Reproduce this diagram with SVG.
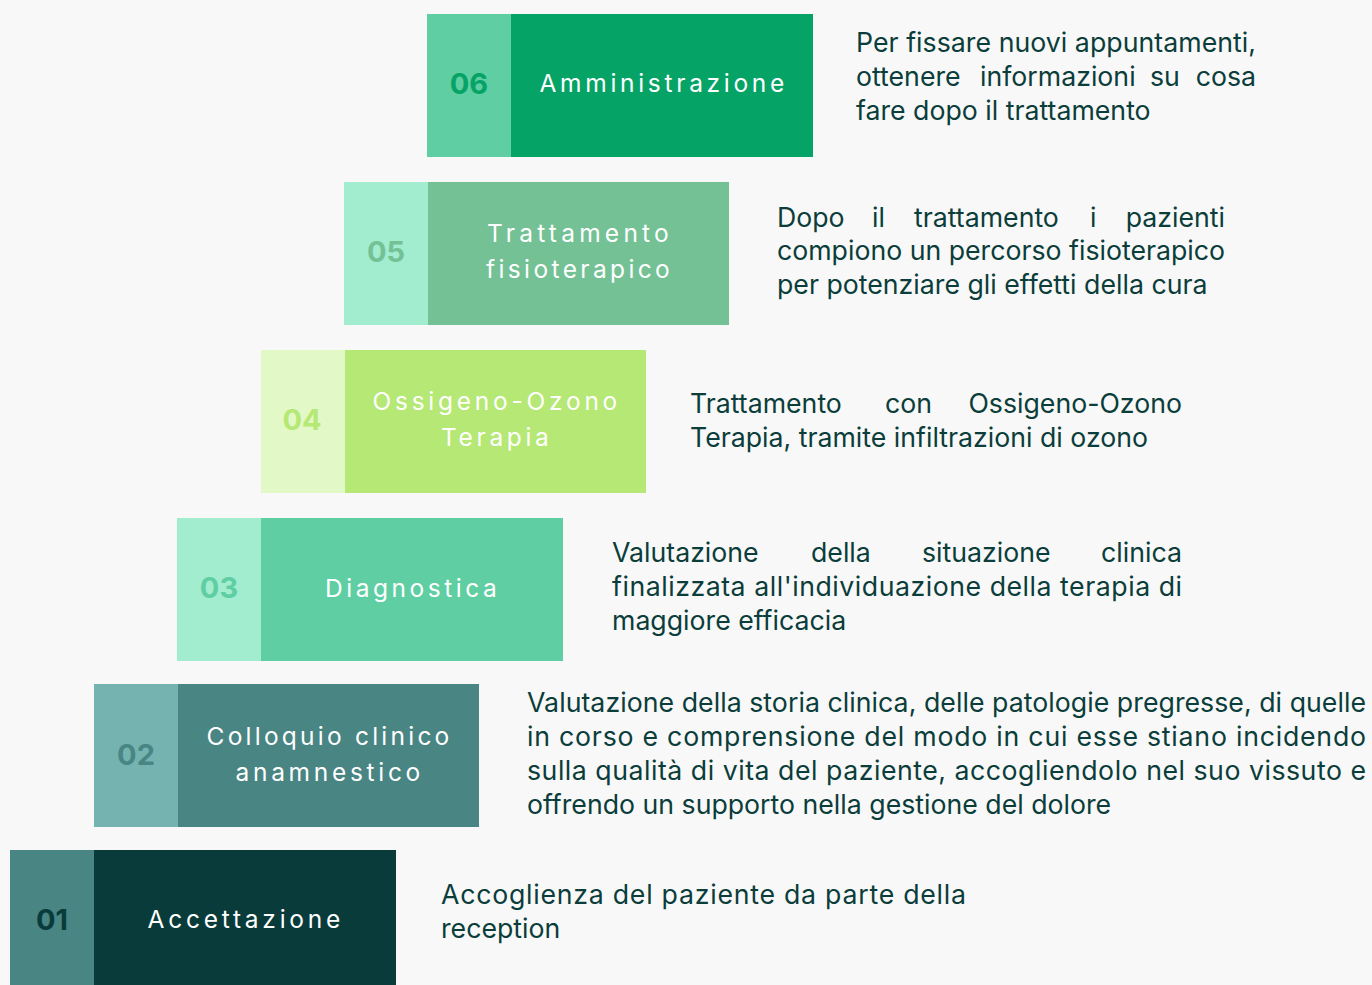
<svg xmlns="http://www.w3.org/2000/svg" width="1372" height="985" viewBox="0 0 1372 985">
<style>
.lbl{font-family:Inter,"Liberation Sans",sans-serif;font-size:24.5px;fill:#ffffff;letter-spacing:2.2px;text-anchor:middle}
.num{font-family:Inter,"Liberation Sans",sans-serif;font-size:29px;font-weight:700;text-anchor:middle}
.body{font-family:Inter,"Liberation Sans",sans-serif;font-size:26.7px;fill:#0b3d3a}
.end{text-anchor:end}
</style>
<rect x="0" y="0" width="1372" height="985" fill="#f8f8f8"/>
<g id="step06">
<rect x="427" y="14" width="84" height="143" fill="#5fcea3"/>
<rect x="511" y="14" width="302" height="143" fill="#05a366"/>
<text class="num" x="469" y="94" fill="#05a366">06</text>
<text class="lbl" x="663" y="92" textLength="247" lengthAdjust="spacing">Amministrazione</text>
</g>
<g id="step05">
<rect x="344" y="182" width="84" height="143" fill="#a2ecd0"/>
<rect x="428" y="182" width="301" height="143" fill="#74c195"/>
<text class="num" x="386" y="262" fill="#74c195">05</text>
<text class="lbl" x="579" y="242" textLength="184" lengthAdjust="spacing">Trattamento</text>
<text class="lbl" x="579" y="278" textLength="186" lengthAdjust="spacing">fisioterapico</text>
</g>
<g id="step04">
<rect x="261" y="350" width="84" height="143" fill="#e2f8c7"/>
<rect x="345" y="350" width="301" height="143" fill="#b5e874"/>
<text class="num" x="302" y="430" fill="#b5e874">04</text>
<text class="lbl" x="496" y="410" textLength="247" lengthAdjust="spacing">Ossigeno-Ozono</text>
<text class="lbl" x="496" y="446" textLength="110" lengthAdjust="spacing">Terapia</text>
</g>
<g id="step03">
<rect x="177" y="518" width="84" height="143" fill="#a2ecd0"/>
<rect x="261" y="518" width="302" height="143" fill="#5fcea3"/>
<text class="num" x="219" y="598" fill="#5fcea3">03</text>
<text class="lbl" x="412" y="597" textLength="174" lengthAdjust="spacing">Diagnostica</text>
</g>
<g id="step02">
<rect x="94" y="684" width="84" height="143" fill="#75b3b0"/>
<rect x="178" y="684" width="301" height="143" fill="#488583"/>
<text class="num" x="136" y="765" fill="#488583">02</text>
<text class="lbl" x="329" y="745" textLength="245" lengthAdjust="spacing">Colloquio clinico</text>
<text class="lbl" x="329" y="781" textLength="187" lengthAdjust="spacing">anamnestico</text>
</g>
<g id="step01">
<rect x="10" y="850" width="84" height="135" fill="#488583"/>
<rect x="94" y="850" width="302" height="135" fill="#083b3a"/>
<text class="num" x="52" y="930" fill="#083b3a">01</text>
<text class="lbl" x="245" y="928" textLength="195" lengthAdjust="spacing">Accettazione</text>
</g>
<g id="connectors"></g>
<g id="desc06">
<text class="body" x="856" y="52" textLength="400" lengthAdjust="spacing">Per fissare nuovi appuntamenti,</text>
<text class="body" y="86"><tspan x="856">ottenere</tspan><tspan x="980">informazioni</tspan><tspan x="1150">su</tspan></text>
<text class="body end" x="1256" y="86">cosa</text>
<text class="body" x="856" y="120">fare dopo il trattamento</text>
</g>
<g id="desc05">
<text class="body" y="227"><tspan x="777">Dopo</tspan><tspan x="872">il</tspan><tspan x="914">trattamento</tspan><tspan x="1090">i</tspan></text>
<text class="body end" x="1225" y="227">pazienti</text>
<text class="body" x="777" y="260" textLength="448" lengthAdjust="spacing">compiono un percorso fisioterapico</text>
<text class="body" x="777" y="294">per potenziare gli effetti della cura</text>
</g>
<g id="desc04">
<text class="body" y="413"><tspan x="690">Trattamento</tspan><tspan x="885">con</tspan></text>
<text class="body end" x="1182" y="413">Ossigeno-Ozono</text>
<text class="body" x="690" y="447">Terapia, tramite infiltrazioni di ozono</text>
</g>
<g id="desc03">
<text class="body" y="562"><tspan x="612">Valutazione</tspan><tspan x="811">della</tspan><tspan x="922">situazione</tspan></text>
<text class="body end" x="1182" y="562">clinica</text>
<text class="body" x="612" y="596" textLength="570" lengthAdjust="spacing">finalizzata all'individuazione della terapia di</text>
<text class="body" x="612" y="630">maggiore efficacia</text>
</g>
<g id="desc02">
<text class="body" x="527" y="712" textLength="839" lengthAdjust="spacing">Valutazione della storia clinica, delle patologie pregresse, di quelle</text>
<text class="body" x="527" y="746" textLength="839" lengthAdjust="spacing">in corso e comprensione del modo in cui esse stiano incidendo</text>
<text class="body" x="527" y="780" textLength="839" lengthAdjust="spacing">sulla qualità di vita del paziente, accogliendolo nel suo vissuto e</text>
<text class="body" x="527" y="814">offrendo un supporto nella gestione del dolore</text>
</g>
<g id="desc01">
<text class="body" x="441" y="904" textLength="525" lengthAdjust="spacing">Accoglienza del paziente da parte della</text>
<text class="body" x="441" y="938">reception</text>
</g>
</svg>
